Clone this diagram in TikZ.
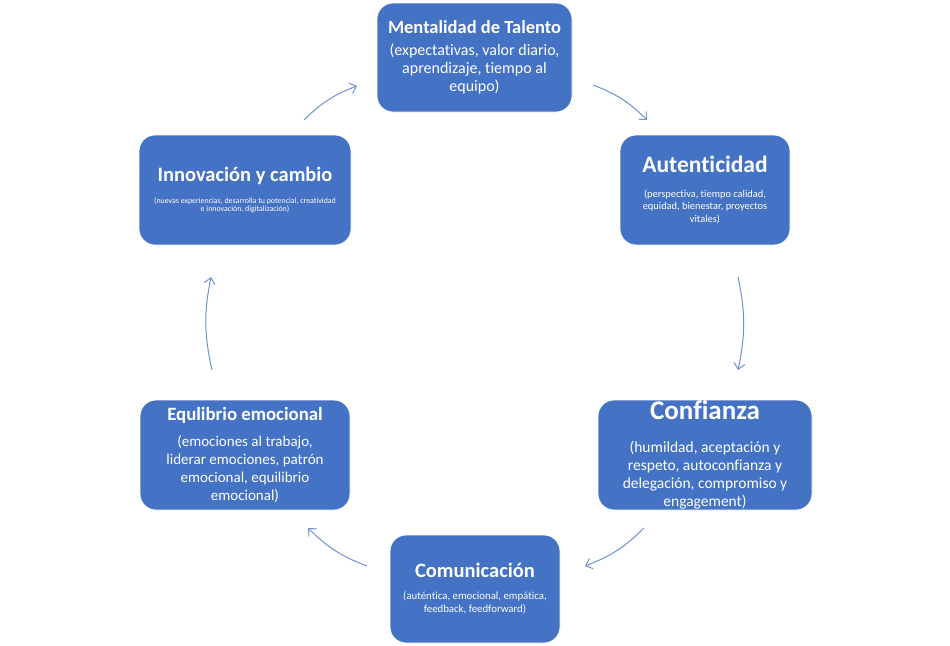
\documentclass[tikz,border=0pt]{standalone}
\usepackage{fontspec}
\setmainfont{Carlito}[Ligatures={NoCommon}]
\usepackage{xcolor}
\usetikzlibrary{arrows.meta}
\definecolor{boxblue}{RGB}{68,114,196}
\definecolor{flowblue}{RGB}{112,146,210}

\newcommand{\boxtitle}[2]{{\fontsize{#1}{#1}\selectfont\bfseries #2}}

\tikzset{
  box/.style={draw=white, line width=0.8pt, fill=boxblue, rounded corners=16pt,
    text=white, align=center, inner sep=0pt},
  flow/.style={draw=flowblue, line width=1pt, -{Straight Barb[length=6pt,width=11pt]}, bend left=12}
}

\begin{document}
\begin{tikzpicture}[x=1pt,y=-1pt]
    \useasboundingbox (0,0) rectangle (950,645);
    % boxes
    \node[box,minimum width=195pt,minimum height=109pt,font=\fontsize{16}{18}\selectfont] (ment) at (474.5,57.5)
      {\boxtitle{18.5}{Mentalidad de Talento}\\[4pt]
       (expectativas, valor diario,\\ aprendizaje, tiempo al\\ equipo)};
    \node[box,minimum width=170pt,minimum height=110pt,font=\fontsize{10.4}{12.5}\selectfont] (aut) at (705,190)
      {\boxtitle{23.5}{Autenticidad}\\[12pt]
       (perspectiva, tiempo calidad,\\ equidad, bienestar, proyectos\\ vitales)};
    \node[box,minimum width=214pt,minimum height=110pt,font=\fontsize{15.5}{18}\selectfont] (conf) at (705,455)
      {\boxtitle{27}{Confianza}\\[15pt]
       (humildad, aceptación y\\ respeto, autoconfianza y\\ delegación, compromiso y\\ engagement)};
    \node[box,minimum width=170pt,minimum height=108pt,font=\fontsize{10.8}{13}\selectfont] (com) at (475,589)
      {\boxtitle{20.5}{Comunicación}\\[9pt]
       (auténtica, emocional, empática,\\ feedback, feedforward)};
    \node[box,minimum width=210pt,minimum height=110pt,font=\fontsize{15}{18}\selectfont] (equ) at (245,455)
      {\boxtitle{18.8}{Equlibrio emocional}\\[8pt]
       (emociones al trabajo,\\ liderar emociones, patrón\\ emocional, equilibrio\\ emocional)};
    \node[box,minimum width=212pt,minimum height=110pt,font=\fontsize{7.9}{8.5}\selectfont] (inn) at (245,190)
      {\boxtitle{20.5}{Innovación y cambio}\\[12pt]
       (nuevas experiencias, desarrolla tu potencial, creatividad\\ e innovación, digitalización)};
    % arrow ends
    \coordinate (inn-out) at (304,120);
    \coordinate (ment-in) at (357,86);
    \coordinate (ment-out) at (593,85);
    \coordinate (aut-in) at (647,120);
    \coordinate (aut-out) at (738,277);
    \coordinate (conf-in) at (738,370);
    \coordinate (conf-out) at (644,528);
    \coordinate (com-in) at (585,566);
    \coordinate (com-out) at (367,566);
    \coordinate (equ-in) at (308,528);
    \coordinate (equ-out) at (212,370);
    \coordinate (inn-in) at (211,277);
    % cycle
    \draw[flow] (inn-out) to (ment-in);
    \draw[flow] (ment-out) to (aut-in);
    \draw[flow] (aut-out) to (conf-in);
    \draw[flow] (conf-out) to (com-in);
    \draw[flow] (com-out) to (equ-in);
    \draw[flow] (equ-out) to (inn-in);
\end{tikzpicture}
\end{document}
